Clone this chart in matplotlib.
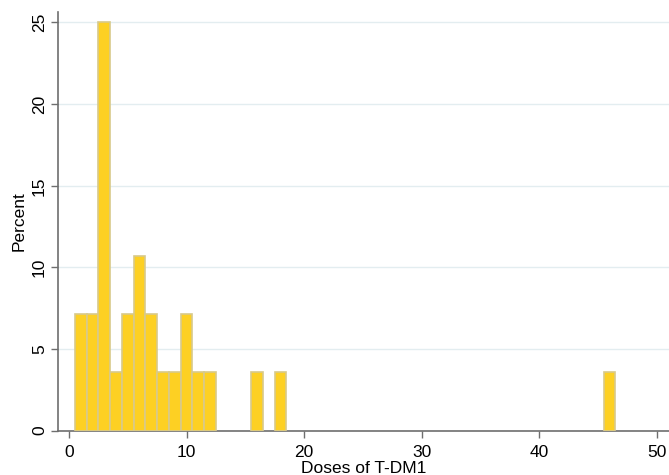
import matplotlib.pyplot as plt
import numpy as np

# doses of T-DM1 and number of patients at each dose (28 patients)
doses = [1, 2, 3, 4, 5, 6, 7, 8, 9, 10, 11, 12, 16, 18, 46]
counts = [2, 2, 7, 1, 2, 3, 2, 1, 1, 2, 1, 1, 1, 1, 1]

percent = 100.0 * np.array(counts) / sum(counts)

plt.rcParams['font.family'] = ['Liberation Sans', 'DejaVu Sans']

fig = plt.figure(figsize=(6.69, 4.75), dpi=100)
ax = fig.add_axes([0.0867, 0.0933, 0.9133, 0.8817])

ax.bar(doses, percent, width=1.0, color='#fdd023',
       edgecolor='#d8c98a', linewidth=1.2, zorder=3)

ax.set_xlim(-0.94, 51.06)
ax.set_ylim(0, 25.65)
ax.set_xticks([0, 10, 20, 30, 40, 50])
ax.set_yticks([0, 5, 10, 15, 20, 25])
ax.yaxis.grid(True, color='#e3edf0', linewidth=1.0, zorder=0)
ax.set_axisbelow(True)

for side in ['top', 'right']:
    ax.spines[side].set_visible(False)
for side in ['left', 'bottom']:
    ax.spines[side].set_color('#6e6e6e')
    ax.spines[side].set_linewidth(1.2)

ax.tick_params(axis='both', colors='#6e6e6e', length=5, width=1.0,
               labelsize=12.5, labelcolor='black', pad=3)
ax.tick_params(axis='x', pad=5)
plt.setp(ax.get_yticklabels(), rotation=90, va='center')

ax.set_xlabel('Doses of T-DM1', fontsize=12.5, labelpad=1)
ax.set_ylabel('Percent', fontsize=12.5, labelpad=4)

fig.savefig('out.png', dpi=100)
